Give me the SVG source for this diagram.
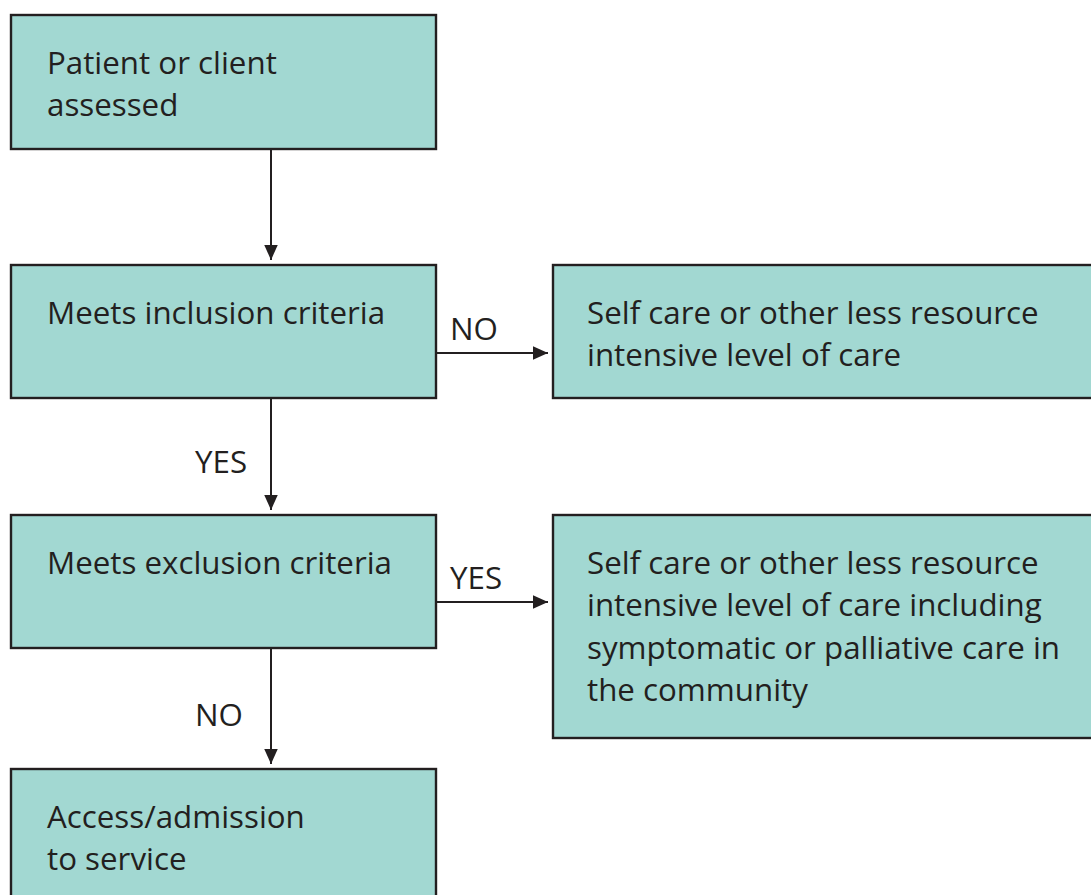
<svg xmlns="http://www.w3.org/2000/svg" width="1091" height="895" viewBox="0 0 1091 895">
<style>
.box{fill:#a2d8d2;stroke:#231f20;stroke-width:2.4}
.t{font-family:"Open Sans","Liberation Sans",sans-serif;font-size:31.3px;fill:#231f20}
.c{stroke:#231f20;stroke-width:2;fill:none;marker-end:url(#ah)}
</style>
<defs>
<marker id="ah" viewBox="0 0 10 10" refX="10" refY="5" markerWidth="15" markerHeight="15" markerUnits="userSpaceOnUse" orient="auto"><path d="M0,0.5 L10,5 L0,9.5 z" fill="#231f20"/></marker>
</defs>
<rect width="1091" height="895" fill="#fff"/>
<g id="n1"><rect class="box" x="11" y="15" width="425" height="134"/><text class="t" x="47" y="74">Patient or client</text><text class="t" x="47" y="116">assessed</text></g>
<g id="n2"><rect class="box" x="11" y="265" width="425" height="133"/><text class="t" x="47" y="324">Meets inclusion criteria</text></g>
<g id="n3"><rect class="box" x="553" y="265" width="545" height="133"/><text class="t" x="587" y="324">Self care or other less resource</text><text class="t" x="587" y="366">intensive level of care</text></g>
<g id="n4"><rect class="box" x="11" y="515" width="425" height="133"/><text class="t" x="47" y="574">Meets exclusion criteria</text></g>
<g id="n5"><rect class="box" x="553" y="515" width="545" height="223"/><text class="t" x="587" y="574">Self care or other less resource</text><text class="t" x="587" y="616">intensive level of care including</text><text class="t" x="587" y="659">symptomatic or palliative care in</text><text class="t" x="587" y="701">the community</text></g>
<g id="n6"><rect class="box" x="11" y="769" width="425" height="140"/><text class="t" x="47" y="828">Access/admission</text><text class="t" x="47" y="870">to service</text></g>
<g id="connectors">
<path class="c" d="M271,149 V260"/>
<path class="c" d="M436,353 H548"/>
<path class="c" d="M271,398 V510"/>
<path class="c" d="M436,602 H548"/>
<path class="c" d="M271,648 V764"/>
<text class="t" x="450" y="340">NO</text>
<text class="t" x="195" y="473">YES</text>
<text class="t" x="450" y="589">YES</text>
<text class="t" x="195" y="726">NO</text>
</g>
</svg>
